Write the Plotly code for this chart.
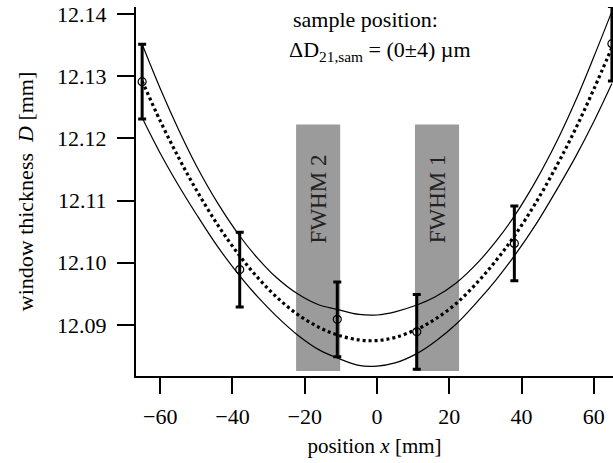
import plotly.graph_objects as go

# measured points
pos_x = [-65, -38, -11, 11, 38, 65]
thick = [12.1291, 12.0989, 12.0909, 12.0889, 12.1031, 12.1352]
thick_err = [0.006, 0.006, 0.006, 0.006, 0.006, 0.006]

# fit curve and its band
fit_x = [-65, -60, -55, -50, -44, -38, -33, -28, -22, -16, -11, -5, 0, 5, 11, 16, 22, 28, 33, 38, 44, 50, 55, 60, 65]
fit_y = [12.1292, 12.1228, 12.1170, 12.1117, 12.1060, 12.1011, 12.0976, 12.0946, 12.0917, 12.0896, 12.0884, 12.0876,
         12.0875, 12.0880, 12.0893, 12.0909, 12.0935, 12.0970, 12.1004, 12.1043, 12.1097, 12.1159, 12.1216, 12.1279, 12.1346]
upper_y = [12.1351, 12.1280, 12.1215, 12.1156, 12.1095, 12.1043, 12.1007, 12.0977, 12.0950, 12.0932, 12.0925, 12.0917,
           12.0916, 12.0921, 12.0932, 12.0945, 12.0968, 12.1001, 12.1035, 12.1075, 12.1132, 12.1198, 12.1261, 12.1331, 12.1404]
lower_y = [12.1233, 12.1176, 12.1125, 12.1078, 12.1025, 12.0979, 12.0945, 12.0915, 12.0884, 12.0860, 12.0847, 12.0835,
           12.0834, 12.0839, 12.0854, 12.0873, 12.0902, 12.0939, 12.0973, 12.1011, 12.1062, 12.1120, 12.1171, 12.1227, 12.1288]

# FWHM regions
fwhm_labels = ["FWHM 2", "FWHM 1"]
fwhm_x0 = [-22.4, 10.5]
fwhm_x1 = [-10.2, 22.7]
fwhm_y0 = 12.0826
fwhm_y1 = 12.1222

x_ticks = [-60, -40, -20, 0, 20, 40, 60]
y_ticks = [12.09, 12.10, 12.11, 12.12, 12.13, 12.14]
y_tick_text = ["12.09", "12.10", "12.11", "12.12", "12.13", "12.14"]

FONT = "Liberation Serif"

fig = go.Figure()

annots = []
for x0, x1, lab in zip(fwhm_x0, fwhm_x1, fwhm_labels):
    fig.add_shape(type="rect", x0=x0, x1=x1, y0=fwhm_y0, y1=fwhm_y1,
                  xref="x", yref="y", fillcolor="#9b9b9b", line=dict(width=0), layer="below")
    annots.append(dict(x=(x0 + x1) / 2, y=12.1102, xref="x", yref="y", text=lab,
                       textangle=-90, showarrow=False,
                       font=dict(family=FONT, size=23, color="#222222")))

fig.add_trace(go.Scatter(x=fit_x, y=upper_y, mode="lines", line=dict(color="black", width=1.2, shape="spline"),
                         hoverinfo="skip", showlegend=False))
fig.add_trace(go.Scatter(x=fit_x, y=lower_y, mode="lines", line=dict(color="black", width=1.2, shape="spline"),
                         hoverinfo="skip", showlegend=False))
fig.add_trace(go.Scatter(x=fit_x, y=fit_y, mode="lines", line=dict(color="black", width=3.2, dash="3px,3px", shape="spline"),
                         hoverinfo="skip", showlegend=False))
fig.add_trace(go.Scatter(x=pos_x, y=thick, mode="markers",
                         marker=dict(symbol="circle-open", size=8, color="black", line=dict(width=1.2, color="black")),
                         error_y=dict(type="data", array=thick_err, visible=True, color="black", thickness=3, width=4),
                         cliponaxis=False, showlegend=False, hoverinfo="skip"))

annots += [
    dict(x=(291 - 136) / 477, y=1 - (20 - 7) / 369, xref="paper", yref="paper", text="sample position:",
         showarrow=False, xanchor="left", yanchor="middle",
         font=dict(family=FONT, size=22, color="black")),
    dict(x=(287 - 136) / 477, y=1 - (51 - 7) / 369, xref="paper", yref="paper",
         text="ΔD<sub>21,sam</sub> = (0±4) µm",
         showarrow=False, xanchor="left", yanchor="middle",
         font=dict(family=FONT, size=22, color="black")),
]

fig.update_layout(
    width=613, height=463,
    margin=dict(l=136, r=0, t=7, b=87),
    paper_bgcolor="white", plot_bgcolor="white",
    font=dict(family=FONT, size=21, color="black"),
    annotations=annots,
    hovermode=False,
    xaxis=dict(range=[-66.7, 65.3], tickvals=x_ticks, ticks="outside", ticklen=16, tickwidth=2,
               tickcolor="black", showline=True, linewidth=2, linecolor="black", showgrid=False,
               zeroline=False, mirror=False, ticklabelstandoff=4,
               title=dict(text="position <i>x</i> [mm]", font=dict(family=FONT, size=21), standoff=10),
               tickfont=dict(family=FONT, size=22)),
    yaxis=dict(range=[12.0818, 12.1411], tickvals=y_ticks, ticktext=y_tick_text, ticks="outside", ticklen=17,
               tickwidth=2, tickcolor="black", showline=True, linewidth=2, linecolor="black",
               showgrid=False, zeroline=False, mirror=False, ticklabelstandoff=6,
               title=dict(text="window thickness  <i>D</i> [mm]", font=dict(family=FONT, size=22), standoff=17),
               tickfont=dict(family=FONT, size=22)),
)

fig.write_html("out.html", config={"displayModeBar": False},
               post_script="document.body.style.margin='0';document.body.style.padding='0';")
